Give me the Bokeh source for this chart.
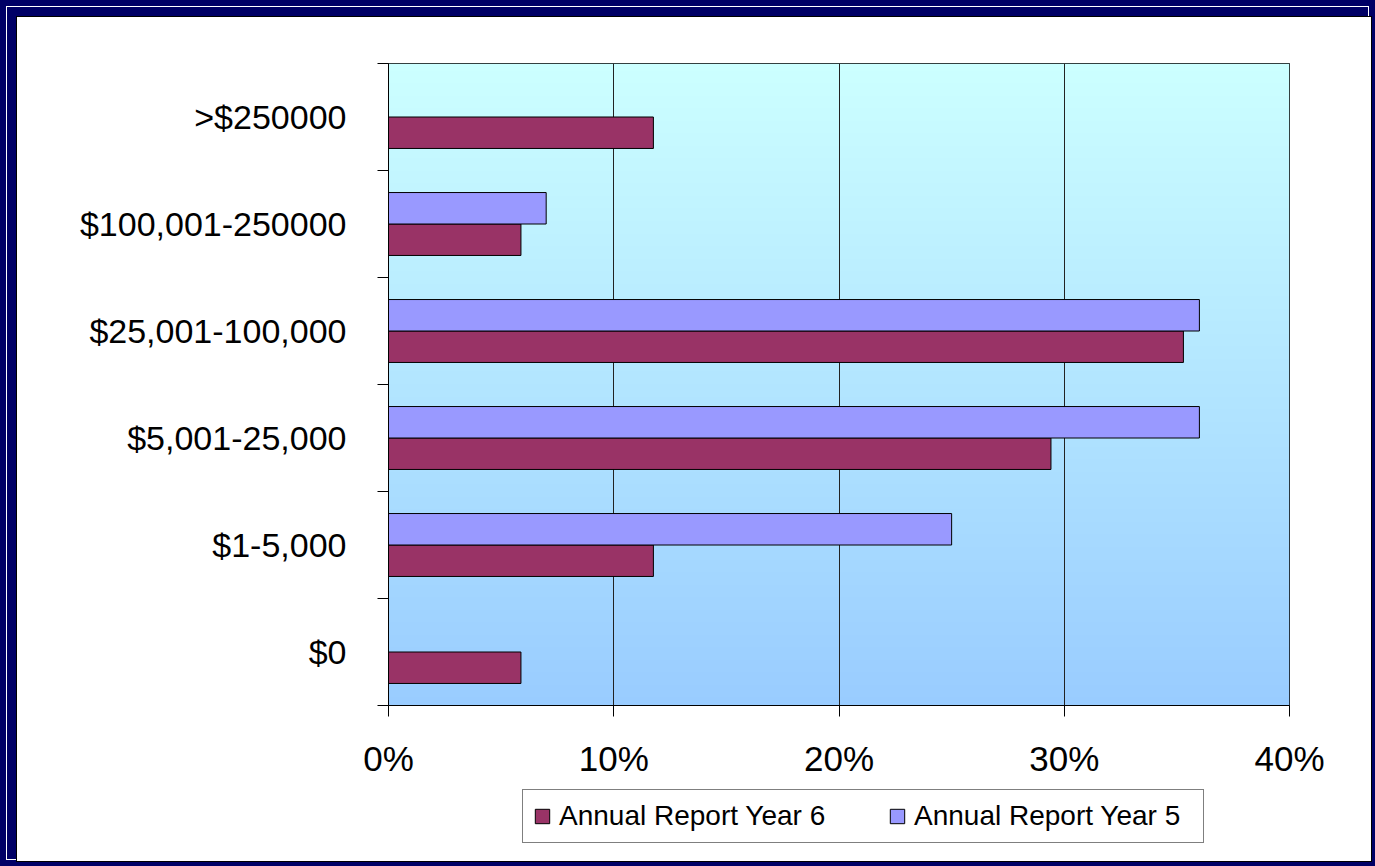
import numpy as np
from bokeh.plotting import figure
from bokeh.models import (ColumnDataSource, FixedTicker, PrintfTickFormatter, Legend,
                          LegendItem, Range1d, CustomJSTickFormatter)
from bokeh.layouts import column
from bokeh.embed import file_html
from bokeh.resources import INLINE

# ---- data (bottom to top) ----
categories = ["$0", "$1-5,000", "$5,001-25,000", "$25,001-100,000", "$100,001-250000", ">$250000"]
year6 = [5.88, 11.76, 29.41, 35.29, 5.88, 11.76]
year5 = [0, 25, 36, 36, 7, 0]
x_ticks = [0, 10, 20, 30, 40]
series_labels = ["Annual Report Year 6", "Annual Report Year 5"]

MAROON = "#993366"
LAVENDER = "#9999FF"
FONT = "Liberation Sans"

BAR_H = 0.294
pos = np.arange(len(categories)) + 0.5
src = ColumnDataSource(dict(cat=categories, y5=year5, y6=year6,
                            yp5=pos + BAR_H / 2, yp6=pos - BAR_H / 2))

p = figure(frame_width=901, frame_height=642, output_backend="svg", toolbar_location=None,
           x_range=Range1d(0, 40), y_range=Range1d(0, len(categories)),
           min_border_left=371, min_border_right=82, min_border_top=46, min_border_bottom=80,
           border_fill_color="white", background_fill_color="#B3E6FF",
           outline_line_color="black", outline_line_width=1)

# gradient plot-area background (style only)
n = 256
top = np.array([0xCC, 0xFF, 0xFF], dtype=float)
bot = np.array([0x99, 0xCC, 0xFF], dtype=float)
t = np.linspace(0, 1, n)[:, None]
rgb = (bot + (top - bot) * t).round().astype(np.uint8)
img = np.zeros((n, 1), dtype=np.uint32)
view = img.view(np.uint8).reshape((n, 1, 4))
view[:, 0, 0:3] = rgb
view[:, 0, 3] = 255
p.image_rgba(image=[img], x=0, y=0, dw=40, dh=len(categories), level="image")

r6 = p.hbar(y="yp6", left=0, right="y6", height=BAR_H, source=src,
            fill_color=MAROON, line_color="black", line_width=1)
r5 = p.hbar(y="yp5", left=0, right="y5", height=BAR_H, source=src,
            fill_color=LAVENDER, line_color="black", line_width=1)

# grid
p.xgrid.ticker = FixedTicker(ticks=x_ticks[1:-1])
p.xgrid.grid_line_color = "#222222"
p.xgrid.grid_line_width = 1
p.ygrid.visible = False

# x axis
xa = p.xaxis[0]
xa.ticker = FixedTicker(ticks=x_ticks)
xa.formatter = PrintfTickFormatter(format="%d%%")
xa.major_label_text_font = FONT
xa.major_label_text_font_size = "35px"
xa.major_label_text_color = "black"
xa.major_tick_out = 11
xa.major_tick_in = 0
xa.major_tick_line_color = "black"
xa.minor_tick_line_color = None
xa.axis_line_color = "black"
xa.major_label_standoff = 22

# y axis: labels at category centres, ticks at category boundaries
ya = p.yaxis[0]
ya.ticker = FixedTicker(ticks=[float(v) for v in pos],
                        minor_ticks=list(range(len(categories) + 1)))
ya.formatter = CustomJSTickFormatter(args=dict(cats=categories),
                                     code="return cats[Math.floor(tick)];")
ya.major_label_text_font = FONT
ya.major_label_text_font_size = "34px"
ya.major_label_text_color = "black"
ya.major_tick_out = 0
ya.major_tick_in = 0
ya.major_tick_line_color = None
ya.minor_tick_out = 11
ya.minor_tick_in = 0
ya.minor_tick_line_color = "black"
ya.axis_line_color = "black"
ya.major_label_standoff = 31

# ---- legend strip below the chart (same series, drawn off-range so only the key shows) ----
p2 = figure(frame_width=901, height=76, output_backend="svg", toolbar_location=None,
            x_axis_location=None, y_axis_location=None,
            min_border_left=371, min_border_right=82, min_border_top=0, min_border_bottom=0,
            x_range=Range1d(0, 40), y_range=Range1d(100, 101),
            outline_line_color=None, background_fill_color="white", border_fill_color="white")
p2.grid.visible = False
k6 = p2.hbar(y="yp6", left=0, right="y6", height=BAR_H, source=src,
             fill_color=MAROON, line_color="black", line_width=1)
k5 = p2.hbar(y="yp5", left=0, right="y5", height=BAR_H, source=src,
             fill_color=LAVENDER, line_color="black", line_width=1)

legend = Legend(items=[LegendItem(label=series_labels[0], renderers=[k6], index=0),
                       LegendItem(label=series_labels[1], renderers=[k5], index=1)],
                orientation="horizontal", location=(134, 18),
                label_text_font=FONT, label_text_font_size="28px", label_text_color="black",
                glyph_width=18, glyph_height=18, label_standoff=8, spacing=50,
                label_width=279, padding=10, border_line_color="black", border_line_width=1,
                background_fill_color="white", background_fill_alpha=1.0)
p2.add_layout(legend, "center")

inner = column(p, p2, spacing=0, styles={"outline": "1px solid black",
                                        "background-color": "white"})
layout = column(inner, styles={
    "background-color": "#000066",
    "padding": "17px 4px 5px 17px",
    "box-shadow": "inset 0 0 0 6px #000066, inset 0 0 0 7px #ffffff",
})

html = file_html(layout, INLINE)
html = html.replace("<head>", "<head><style>html,body{margin:0;padding:0;background:#000066;}</style>", 1)
open("out.html", "w").write(html)
